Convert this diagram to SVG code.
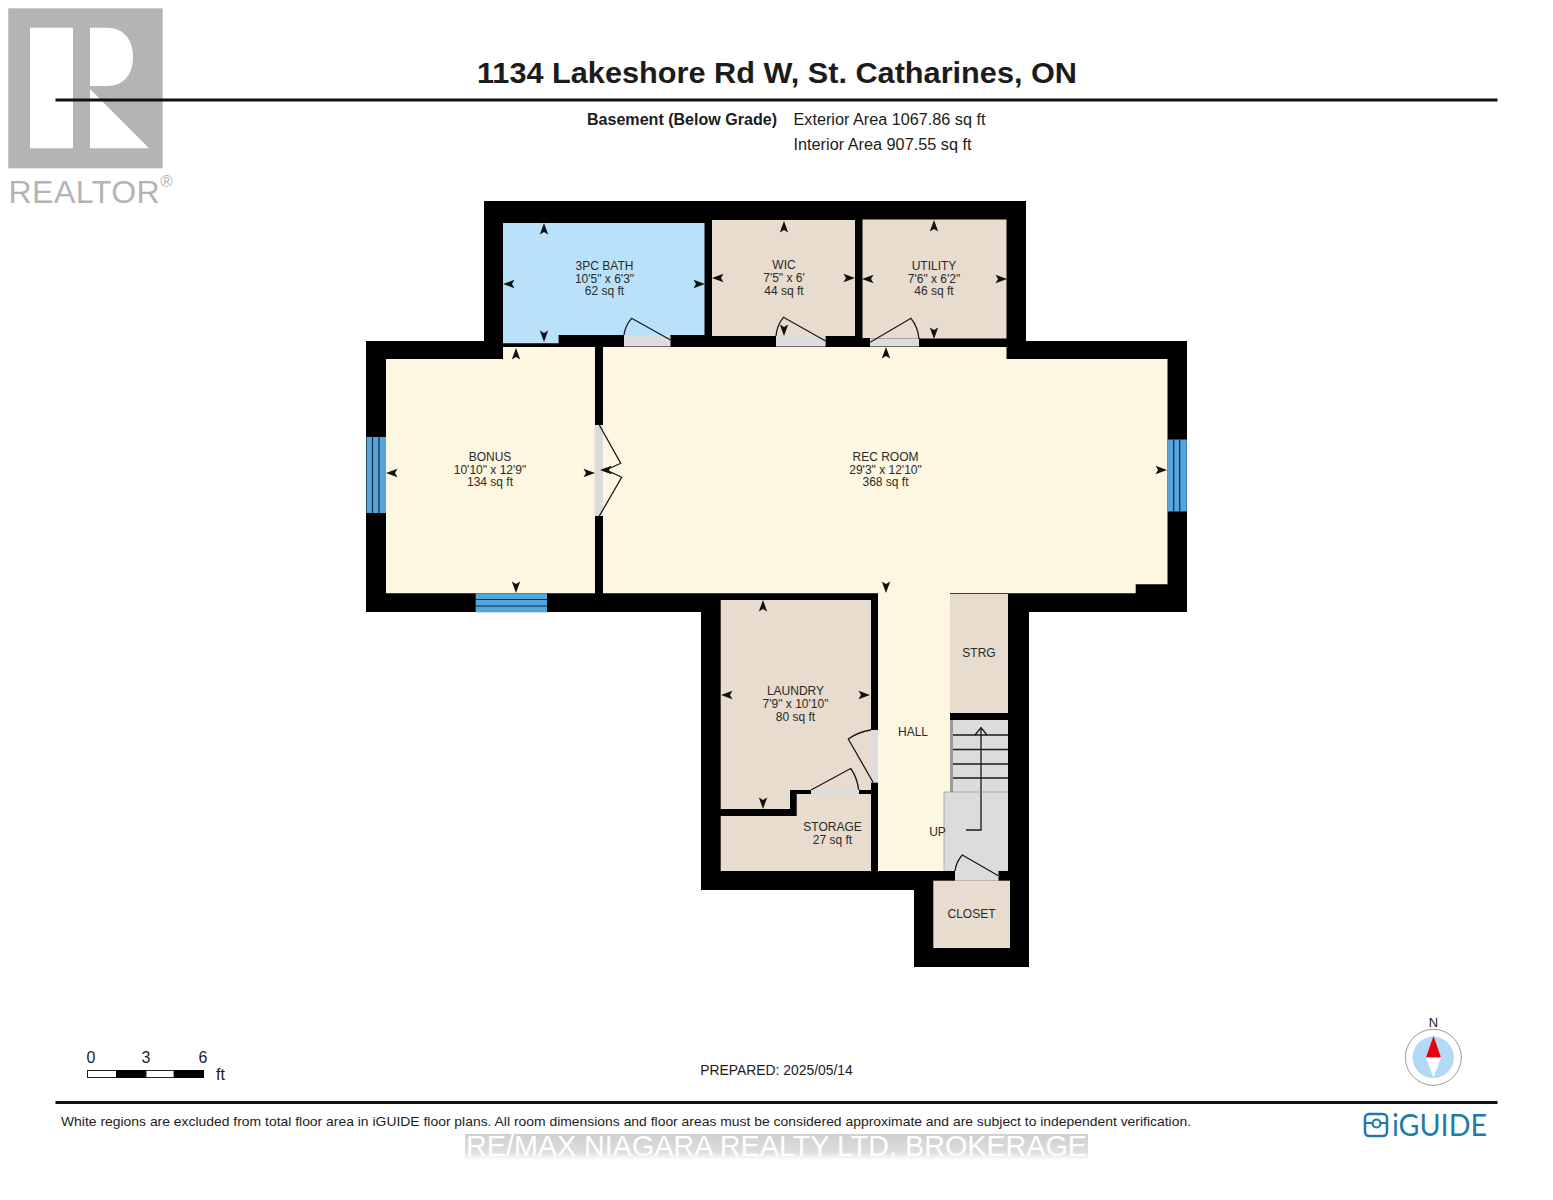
<svg xmlns="http://www.w3.org/2000/svg" width="1553" height="1200" viewBox="0 0 1553 1200">
<style>
text{font-family:"Liberation Sans",Arial,sans-serif;fill:#1c1c1c}
.l{font-size:12px;text-anchor:middle;fill:#2a2a2a}
.h{font-size:16px}
.cream{fill:#fdf6e0}.beige{fill:#e7dccd}.gray{fill:#dcdcdc}.win{fill:#55a5dc}
.leaf{fill:none;stroke:#1a1a1a;stroke-width:1.3}
.wl{stroke:#0c2a40;stroke-width:1.2;fill:none}
.st{stroke:#1a1a1a;stroke-width:1.3;fill:none}
</style>
<defs>
<path id="a" d="M0,-6 L4.2,5.500 L0,3 L-4.200,5.500 Z" fill="#111"/>
<linearGradient id="band" x1="0" y1="0" x2="0" y2="1"><stop offset="0" stop-color="#cfcfcf"/><stop offset="0.7" stop-color="#dedede"/><stop offset="1" stop-color="#ffffff"/></linearGradient>
</defs>
<rect width="1553" height="1200" fill="#fff"/>
<g id="realtor-logo">
<rect x="8.3" y="8.3" width="154.4" height="160" fill="#b4b4b4"/>
<rect x="30" y="27.7" width="43" height="120.6" fill="#fff"/>
<path d="M90,27.7 H107 C124,27.7 133,40 133,57 C133,74 124,86 107,86 H90 Z" fill="#fff"/>
<path d="M90,89 L149,148.3 H90 Z" fill="#fff"/>
<text x="8.500" y="203" font-size="32" letter-spacing="0.5" style="fill:#b4b4b4">REALTOR<tspan font-size="17" dy="-16.500">®</tspan></text>
</g>
<g id="header">
<text x="777" y="83" font-size="29" font-weight="bold" text-anchor="middle" textLength="600" lengthAdjust="spacingAndGlyphs">1134 Lakeshore Rd W, St. Catharines, ON</text>
<rect x="55.5" y="98.5" width="1442" height="3" fill="#111"/>
<text x="587" y="124.500" class="h" font-weight="bold" textLength="190" lengthAdjust="spacingAndGlyphs">Basement (Below Grade)</text>
<text x="793.500" y="124.500" class="h" textLength="192" lengthAdjust="spacingAndGlyphs">Exterior Area 1067.86 sq ft</text>
<text x="793.500" y="149.500" class="h" textLength="178" lengthAdjust="spacingAndGlyphs">Interior Area 907.55 sq ft</text>
</g>
<g id="walls">
<path d="M484,201 H1026 V341 H1187 V612 H1029 V967 H914 V890 H701 V612 H366 V341 H484 Z" fill="#000"/>
</g>
<g id="bath">
<path d="M503,223 H704.500 V335 H558.600 V343.300 H503 Z" fill="#b9e1fa"/>
<rect x="624" y="335" width="46.500" height="11.500" class="gray"/>
<path class="leaf" d="M670.500,340 L631.600,318.300 Q625,326 624,335"/>
<text class="l" x="604.500" y="270">3PC BATH</text><text class="l" x="604.500" y="282.500">10'5" x 6'3"</text><text class="l" x="604.500" y="295">62 sq ft</text>
</g>
<g id="wic">
<rect x="712" y="220" width="143" height="116" class="beige"/>
<rect x="776" y="336" width="49.600" height="10.500" class="gray"/>
<path class="leaf" d="M825.600,341 L783.500,317.300 Q777,325 776,336"/>
<text class="l" x="784" y="269">WIC</text><text class="l" x="784" y="281.500">7'5" x 6'</text><text class="l" x="784" y="294.500">44 sq ft</text>
</g>
<g id="utility">
<rect x="862.500" y="219.500" width="144" height="119" class="beige"/>
<path d="M862.500,338 H870 V342 H862.500 Z" fill="#000"/>
<rect x="870" y="338.500" width="49" height="8" class="gray"/>
<path class="leaf" d="M870.200,342.300 L911,318.300 Q918,327 919,339"/>
<text class="l" x="934" y="270">UTILITY</text><text class="l" x="934" y="282.500">7'6" x 6'2"</text><text class="l" x="934" y="295">46 sq ft</text>
</g>
<g id="bonus">
<path d="M386,359 H503 V347 H595 V593.300 H386 Z" class="cream"/>
<rect x="366.500" y="437" width="19.500" height="76" class="win"/>
<path class="wl" d="M372.500,437 V513 M379,437 V513"/>
<rect x="475.700" y="593.300" width="71.300" height="19" class="win"/>
<path class="wl" d="M475.700,599.500 H547 M475.700,606 H547"/>
<text class="l" x="490" y="461">BONUS</text><text class="l" x="490" y="473.500">10'10" x 12'9"</text><text class="l" x="490" y="486">134 sq ft</text>
</g>
<g id="rec-room">
<path d="M603,347 H1006.500 V359 H1167.500 V584.300 H1135.700 V593.300 H603 Z" class="cream"/>
<rect x="1167.500" y="439.500" width="19.300" height="72" class="win"/>
<path class="wl" d="M1173.700,439.500 V511.500 M1179.700,439.500 V511.500"/>
<path d="M594.500,425 H603 V516 H594.500 Z" class="gray"/>
<path class="leaf" d="M599.300,425 L620.700,463.300 Q612,468 603,470 Q612,472 621.700,477.300 L599.300,516"/>
<text class="l" x="885.500" y="461">REC ROOM</text><text class="l" x="885.500" y="473.500">29'3" x 12'10"</text><text class="l" x="885.500" y="486">368 sq ft</text>
</g>
<g id="hall">
<path d="M878,590 H950 V792 H944 V871 H878 Z" class="cream"/>
<text class="l" x="913" y="735.500">HALL</text>
</g>
<g id="strg">
<rect x="950" y="594" width="58" height="119" class="beige"/>
<text class="l" x="979" y="657">STRG</text>
</g>
<g id="laundry">
<path d="M720.700,600 H871 V790 H790 V809 H720.700 Z" class="beige"/>
<rect x="811" y="790" width="48" height="4.500" class="gray"/>
<rect x="871" y="730" width="7" height="52.700" class="gray"/>
<path class="leaf" d="M811,790 L850.700,768.500 Q857,777 858.700,790"/>
<path class="leaf" d="M873.300,782.700 L848.300,739 Q858,732 871,730"/>
<text class="l" x="795.500" y="695">LAUNDRY</text><text class="l" x="795.500" y="707.500">7'9" x 10'10"</text><text class="l" x="795.500" y="720.500">80 sq ft</text>
</g>
<g id="storage">
<path d="M720.700,816 H796.700 V794 H871 V871 H720.700 Z" class="beige"/>
<rect x="811" y="790" width="48" height="4.500" class="gray"/>
<text class="l" x="832.500" y="831">STORAGE</text><text class="l" x="832.500" y="844">27 sq ft</text>
</g>
<g id="stairs">
<rect x="950" y="720" width="58" height="72" class="gray"/>
<rect x="950" y="720" width="3" height="72" fill="#9a9a9a"/>
<path d="M944,792 H1008 V871 H998.500 V880.700 H955 V871 H944 Z" class="gray"/>
<path class="st" d="M953,735 H1008 M953,749.500 H1008 M953,764 H1008 M953,778 H1008"/>
<path class="st" d="M966,830 H981 V727.500 M975,735 L981,727.500 L987,735"/>
<path d="M944,792 V871 M944,792 H1008" fill="none" stroke="#8a8a8a" stroke-width="0.6"/>
<path class="leaf" d="M998.300,875.700 L962.300,855 Q956,862 955,871"/>
<text class="l" x="937.500" y="835.500">UP</text>
</g>
<g id="closet">
<rect x="933.300" y="880.700" width="76.700" height="67.300" class="beige"/>
<text class="l" x="971.500" y="918">CLOSET</text>
</g>
<g id="connectors">
<use href="#a" transform="translate(544,229)"/><use href="#a" transform="translate(544,336) rotate(180)"/><use href="#a" transform="translate(509,284) rotate(-90)"/><use href="#a" transform="translate(699,284) rotate(90)"/>
<use href="#a" transform="translate(784,227)"/><use href="#a" transform="translate(784,330) rotate(180)"/><use href="#a" transform="translate(718,278) rotate(-90)"/><use href="#a" transform="translate(849,278) rotate(90)"/>
<use href="#a" transform="translate(934,226)"/><use href="#a" transform="translate(934,333) rotate(180)"/><use href="#a" transform="translate(868,279) rotate(-90)"/><use href="#a" transform="translate(1001,279) rotate(90)"/>
<use href="#a" transform="translate(516,354)"/><use href="#a" transform="translate(516,587) rotate(180)"/><use href="#a" transform="translate(392,473) rotate(-90)"/><use href="#a" transform="translate(589,473) rotate(90)"/>
<use href="#a" transform="translate(886,353)"/><use href="#a" transform="translate(886,587) rotate(180)"/><use href="#a" transform="translate(606,470) rotate(-90)"/><use href="#a" transform="translate(1161,470) rotate(90)"/>
<use href="#a" transform="translate(763,606)"/><use href="#a" transform="translate(763,803) rotate(180)"/><use href="#a" transform="translate(727,695) rotate(-90)"/><use href="#a" transform="translate(864,695) rotate(90)"/>
</g>
<g id="scale">
<rect x="87.500" y="1070.500" width="29" height="7" fill="#fff" stroke="#222"/>
<rect x="116" y="1070" width="30" height="8" fill="#000"/>
<rect x="146" y="1070.500" width="28" height="7" fill="#fff" stroke="#222"/>
<rect x="174" y="1070" width="30" height="8" fill="#000"/>
<text x="91" y="1063" font-size="16" text-anchor="middle">0</text>
<text x="146" y="1063" font-size="16" text-anchor="middle">3</text>
<text x="203" y="1063" font-size="16" text-anchor="middle">6</text>
<text x="216" y="1079.500" font-size="16">ft</text>
</g>
<text id="prepared" x="776.500" y="1075" font-size="13.900" text-anchor="middle">PREPARED: 2025/05/14</text>
<g id="compass">
<text x="1433.500" y="1027" font-size="13" text-anchor="middle">N</text>
<circle cx="1433.300" cy="1057.300" r="28" fill="#fff" stroke="#9a9a9a" stroke-width="1"/>
<circle cx="1433.300" cy="1057.300" r="20.700" fill="#b3daf5"/>
<path d="M1433.500,1036 L1441,1057.500 H1426 Z" fill="#e8000f"/>
<path d="M1426,1057.500 H1441 L1433.500,1077.700 Z" fill="#fff"/>
</g>
<g id="footer">
<rect x="55.500" y="1101" width="1442" height="3" fill="#111"/>
<text x="61" y="1126" font-size="13" textLength="1130" lengthAdjust="spacingAndGlyphs">White regions are excluded from total floor area in iGUIDE floor plans. All room dimensions and floor areas must be considered approximate and are subject to independent verification.</text>
<rect x="465" y="1134" width="623" height="26" fill="url(#band)"/>
<text x="466" y="1156" font-size="29" textLength="621" lengthAdjust="spacingAndGlyphs" style="fill:#ffffff">RE/MAX NIAGARA REALTY LTD, BROKERAGE</text>
</g>
<g id="iguide-logo">
<rect x="1365" y="1114" width="22" height="22" rx="4" fill="none" stroke="#1f7ba8" stroke-width="2.500"/>
<path d="M1365,1123 H1372 M1381,1123 H1387" stroke="#1f7ba8" stroke-width="2.200" fill="none"/>
<circle cx="1376.500" cy="1123.500" r="4" fill="none" stroke="#1f7ba8" stroke-width="2.200"/>
<text x="1392" y="1136" font-size="31" textLength="95" lengthAdjust="spacingAndGlyphs" style="font-family:'Lato','Liberation Sans',sans-serif;fill:#1f7ba8">iGUIDE</text>
</g>
</svg>
